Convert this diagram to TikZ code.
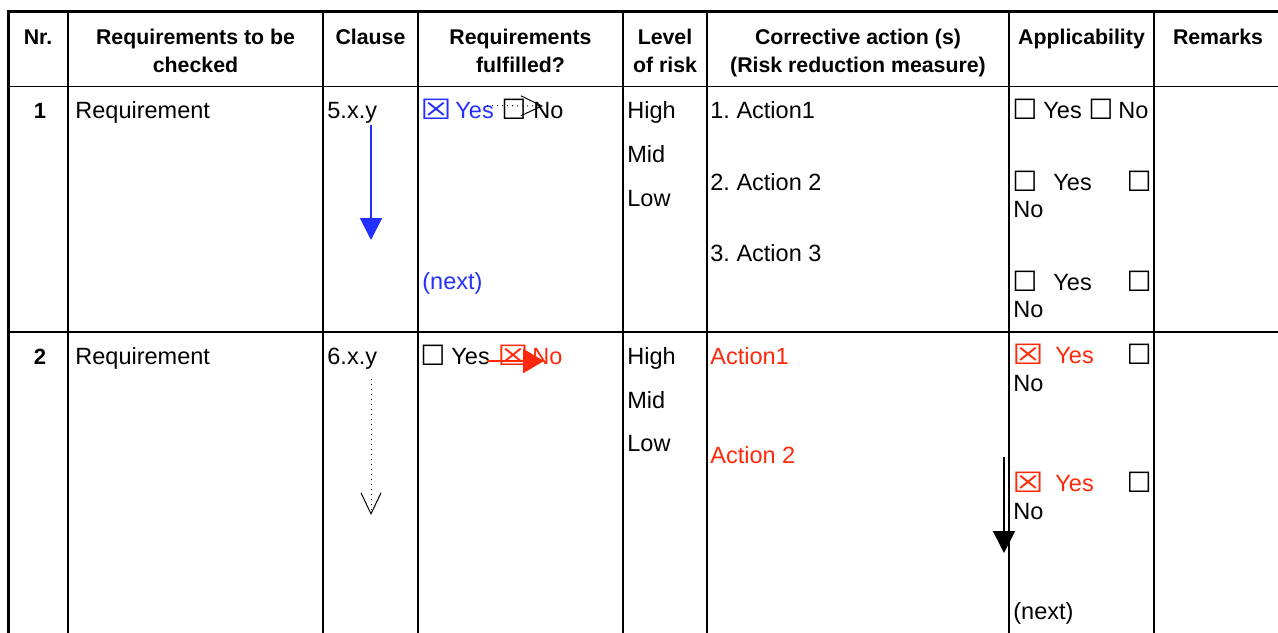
\documentclass[tikz,border=0pt]{standalone}
\usepackage{fontspec}
\setmainfont{Liberation Sans}
\newfontfamily\symfont{DejaVu Sans}
\usetikzlibrary{arrows.meta}
\definecolor{tblue}{RGB}{36,48,255}
\definecolor{tred}{RGB}{255,40,10}
\newcommand{\xbox}{\scalebox{1.25}[1]{☒}}
\begin{document}
\frenchspacing
\begin{tikzpicture}[x=0.5pt,y=-0.5pt,
  thinrule/.style={line width=0.75pt,black},
  thickrule/.style={line width=1.6pt,black},
  hd/.style={anchor=base,inner sep=0pt,font=\bfseries\fontsize{10.65}{12}\selectfont},
  nr/.style={anchor=base,inner sep=0pt,font=\bfseries\fontsize{11}{13}\selectfont},
  tx/.style={anchor=base west,inner sep=0pt,font=\fontsize{11.75}{14}\selectfont},
  bx/.style={anchor=base west,inner sep=0pt,font=\symfont\fontsize{14}{16}\selectfont},
  bxr/.style={bx,anchor=base east},
  bluearrow/.style={tblue,line width=1pt,-{Triangle[width=11pt,length=11pt]}},
  redarrow/.style={tred,line width=1.25pt,-{Triangle[width=12pt,length=10.5pt]}},
  blackarrow/.style={black,line width=0.9pt,-{Triangle[width=11pt,length=11pt]}},
  dotarrow/.style={black,line width=0.5pt,dotted,-{Straight Barb[width=10pt,length=10.5pt]}}
]
\useasboundingbox (0,0) rectangle (1278,632);
\clip (0,0) rectangle (1278,632);
% grid
\foreach \xx in {68,323,418,623,707,1009,1154}{
  \draw[thinrule] (\xx,11) -- (\xx,640);
}
\draw[thinrule] (8,86.5) -- (1290,86.5);
\draw[thinrule] (8,332) -- (1290,332);
\draw[thickrule] (8.5,10) -- (8.5,640);
\draw[thickrule] (7,11.5) -- (1290,11.5);
% header
\node[hd] (hNr) at (38,44.5) {Nr.};
\node[hd] (hReqA) at (195.5,44.5) {Requirements to be};
\node[hd] (hReqB) at (195.5,72.5) {checked};
\node[hd] (hCl) at (370.5,44.5) {Clause};
\node[hd] (hFulA) at (520.5,44.5) {Requirements};
\node[hd] (hFulB) at (520.5,72.5) {fulfilled?};
\node[hd] (hLvA) at (665,44.5) {Level};
\node[hd] (hLvB) at (665,72.5) {of risk};
\node[hd] (hCoA) at (858,44.5) {Corrective action (s)};
\node[hd] (hCoB) at (858,72.5) {(Risk reduction measure)};
\node[hd] (hAp) at (1081.5,44.5) {Applicability};
\node[hd] (hRe) at (1218,44.5) {Remarks};
% row 1
\node[nr] (n1) at (40,118.3) {1};
\node[tx] (r1req) at (75,118.3) {Requirement};
\node[tx] (r1cl) at (327,118.3) {5.x.y};
\node[bx,tblue] (r1yb) at (420,119.5) {\xbox};
\node[tx,tblue] (r1yes) at (455,118.3) {Yes};
\node[bx] (r1nb) at (501,119.5) {☐};
\node[tx] (r1no) at (533,118.3) {No};
\node[tx,tblue] (r1next) at (422,289.3) {(next)};
\node[tx] (r1hi) at (627,118.3) {High};
\node[tx] (r1mi) at (627,162.5) {Mid};
\node[tx] (r1lo) at (627,206.7) {Low};
\node[tx] (r1a1) at (710,118.3) {1. Action1};
\node[tx] (r1a2) at (710,190) {2. Action 2};
\node[tx] (r1a3) at (710,261.7) {3. Action 3};
\node[bx] (r1p1b) at (1012,119.5) {☐};
\node[tx] (r1p1y) at (1043,118.3) {Yes};
\node[bx] (r1p1c) at (1088,119.5) {☐};
\node[tx] (r1p1n) at (1118,118.3) {No};
\node[bx] (r1p2b) at (1012,191.2) {☐};
\node[tx] (r1p2y) at (1053,190) {Yes};
\node[bxr] (r1p2c) at (1152,191.2) {☐};
\node[tx] (r1p2n) at (1013,217.3) {No};
\node[bx] (r1p3b) at (1012,291.2) {☐};
\node[tx] (r1p3y) at (1053,290) {Yes};
\node[bxr] (r1p3c) at (1152,291.2) {☐};
\node[tx] (r1p3n) at (1013,317) {No};
% row 2
\node[nr] (n2) at (40,364) {2};
\node[tx] (r2req) at (75,364) {Requirement};
\node[tx] (r2cl) at (327,364) {6.x.y};
\node[bx] (r2yb) at (420,365.2) {☐};
\node[tx] (r2yes) at (451,364) {Yes};
\node[bx,tred] (r2nb) at (497,365.2) {\xbox};
\node[tx,tred] (r2no) at (532,364) {No};
\node[tx] (r2hi) at (627,364) {High};
\node[tx] (r2mi) at (627,408) {Mid};
\node[tx] (r2lo) at (627,451.7) {Low};
\node[tx,tred] (r2a1) at (710,364) {Action1};
\node[tx,tred] (r2a2) at (710,463) {Action 2};
\node[bx,tred] (r2p1b) at (1012,364.7) {\xbox};
\node[tx,tred] (r2p1y) at (1055,363.5) {Yes};
\node[bxr] (r2p1c) at (1152,364.7) {☐};
\node[tx] (r2p1n) at (1013,391.5) {No};
\node[bx,tred] (r2p2b) at (1012,492.7) {\xbox};
\node[tx,tred] (r2p2y) at (1055,491.5) {Yes};
\node[bxr] (r2p2c) at (1152,492.7) {☐};
\node[tx] (r2p2n) at (1013,519.3) {No};
\node[tx] (r2next) at (1013,619.3) {(next)};
% arrows
\coordinate (b1s) at (371,125);
\coordinate (b1e) at (371,240);
\draw[bluearrow] (b1s) -- (b1e);
\coordinate (d1s) at (487,105.5);
\coordinate (d1e) at (543,106);
\draw[dotarrow] (d1s) -- (d1e);
\coordinate (r2s) at (487,361);
\coordinate (r2e) at (544,361);
\draw[redarrow] (r2s) -- (r2e);
\coordinate (d2s) at (371,379);
\coordinate (d2e) at (371,515);
\draw[dotarrow] (d2s) -- (d2e);
\coordinate (k2s) at (1004,457);
\coordinate (k2e) at (1004,553);
\draw[blackarrow] (k2s) -- (k2e);
\end{tikzpicture}
\end{document}
